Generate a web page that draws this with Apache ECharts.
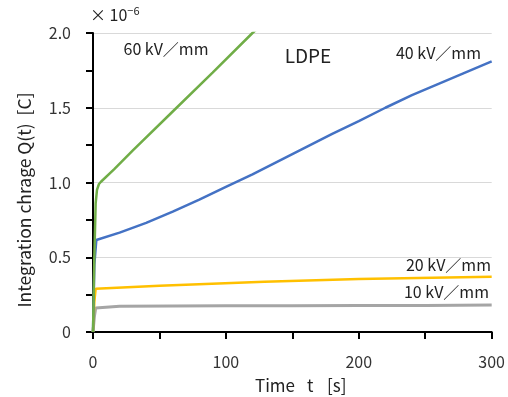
<!DOCTYPE html>
<html><head><meta charset="utf-8">
<script src="https://cdn.jsdelivr.net/npm/echarts@6/dist/echarts.min.js"></script>
<style>html,body{margin:0;padding:0;background:#fff}#c{width:508px;height:397px}</style>
</head><body><div id="c"></div>
<script>
const seriesNames = ['60 kV/mm', '40 kV/mm', '20 kV/mm', '10 kV/mm'];
const q60 = [[0,0],[1,0.5],[2,0.86],[3,0.95],[4.5,0.99],[6,1.005],[16,1.09],[30,1.215],[60,1.475],[90,1.735],[120,2.0],[125,2.04]];
const q40 = [[0,0],[1,0.45],[2.5,0.615],[20,0.665],[40,0.73],[60,0.805],[80,0.885],[100,0.97],[120,1.055],[140,1.145],[160,1.235],[180,1.325],[200,1.41],[220,1.5],[240,1.585],[260,1.66],[280,1.735],[300,1.81]];
const q20 = [[0,0],[1,0.2],[2,0.29],[50,0.31],[129,0.336],[200,0.355],[300,0.37]];
const q10 = [[0,0],[1,0.1],[2,0.16],[3,0.17],[20,0.172],[60,0.174],[100,0.175],[150,0.176],[200,0.177],[250,0.178],[300,0.18]];
const xTicks = [0, 100, 200, 300];
const yTicks = [0, 0.5, 1.0, 1.5, 2.0];
const colors = ['#70ad47', '#4472c4', '#ffc000', '#a5a5a5'];

const chart = echarts.init(document.getElementById('c'));
const FONT = '"Noto Sans CJK JP", "Noto Sans", sans-serif';
const TICK = '#000';

chart.setOption({
  animation: false,
  grid: {left: 93, right: 16, top: 33, bottom: 65},
  xAxis: {
    type: 'value', min: xTicks[0], max: xTicks[xTicks.length-1], interval: 100,
    splitLine: {show: false},
    axisLine: {show: true, lineStyle: {color: '#000', width: 2}},
    axisTick: {show: true, length: 7, lineStyle: {color: TICK, width: 2}},
    minorTick: {show: true, splitNumber: 2, length: 7, lineStyle: {color: TICK, width: 2}},
    axisLabel: {color: '#333', fontSize: 16, fontFamily: FONT, margin: 22}
  },
  yAxis: {
    type: 'value', min: yTicks[0], max: yTicks[yTicks.length-1], interval: 0.5,
    splitLine: {show: true, lineStyle: {color: '#d9d9d9', width: 1}},
    axisLine: {show: true, lineStyle: {color: '#000', width: 2}},
    axisTick: {show: true, length: 7, lineStyle: {color: TICK, width: 2}},
    minorTick: {show: true, splitNumber: 2, length: 7, lineStyle: {color: TICK, width: 2}},
    axisLabel: {color: '#333', fontSize: 16, fontFamily: FONT, margin: 22,
      formatter: v => v === 0 ? '0' : v.toFixed(1)}
  },
  series: [q60, q40, q20, q10].map((d, i) => ({
    name: seriesNames[i], type: 'line', data: d, showSymbol: false, symbol: 'none',
    clip: true, z: 10 - i,
    lineStyle: {color: colors[i], width: i === 3 ? 3 : 2.5},
    itemStyle: {color: colors[i]}
  }))
});

const txt = (x, y, s, size, align) => ({type: 'text', x: x, y: y, z: 50,
  style: {text: s, font: size + 'px ' + FONT, fill: '#222', align: align || 'center', verticalAlign: 'middle'}});
chart.setOption({
  graphic: [
    {type: 'text', left: 90, top: 5, z: 50, style: {
      text: '{a|× 10}{b|−6}', fill: '#222',
      rich: {a: {fontSize: 16, fontFamily: FONT, fill: '#222'}, b: {fontSize: 11, fontFamily: FONT, fill: '#222', verticalAlign: 'top', padding: [0,0,8,0]}}
    }},
    txt(166, 49, '60 kV／mm', 16),
    txt(308, 56, 'LDPE', 19),
    txt(481, 53, '40 kV／mm', 16, 'right'),
    txt(491, 265, '20 kV／mm', 16, 'right'),
    txt(489, 292, '10 kV／mm', 16, 'right'),
    txt(255, 386, 'Time', 17, 'left'),
    txt(307, 386, 't', 17, 'left'),
    txt(327, 386, '[s]', 17, 'left'),
    {type: 'text', x: 24, y: 200, rotation: Math.PI/2, z: 50, style: {text: 'Integration chrage Q(t)  [C]', font: '17.5px ' + FONT, fill: '#222', align: 'center', verticalAlign: 'middle'}}
  ]
});
</script></body></html>
